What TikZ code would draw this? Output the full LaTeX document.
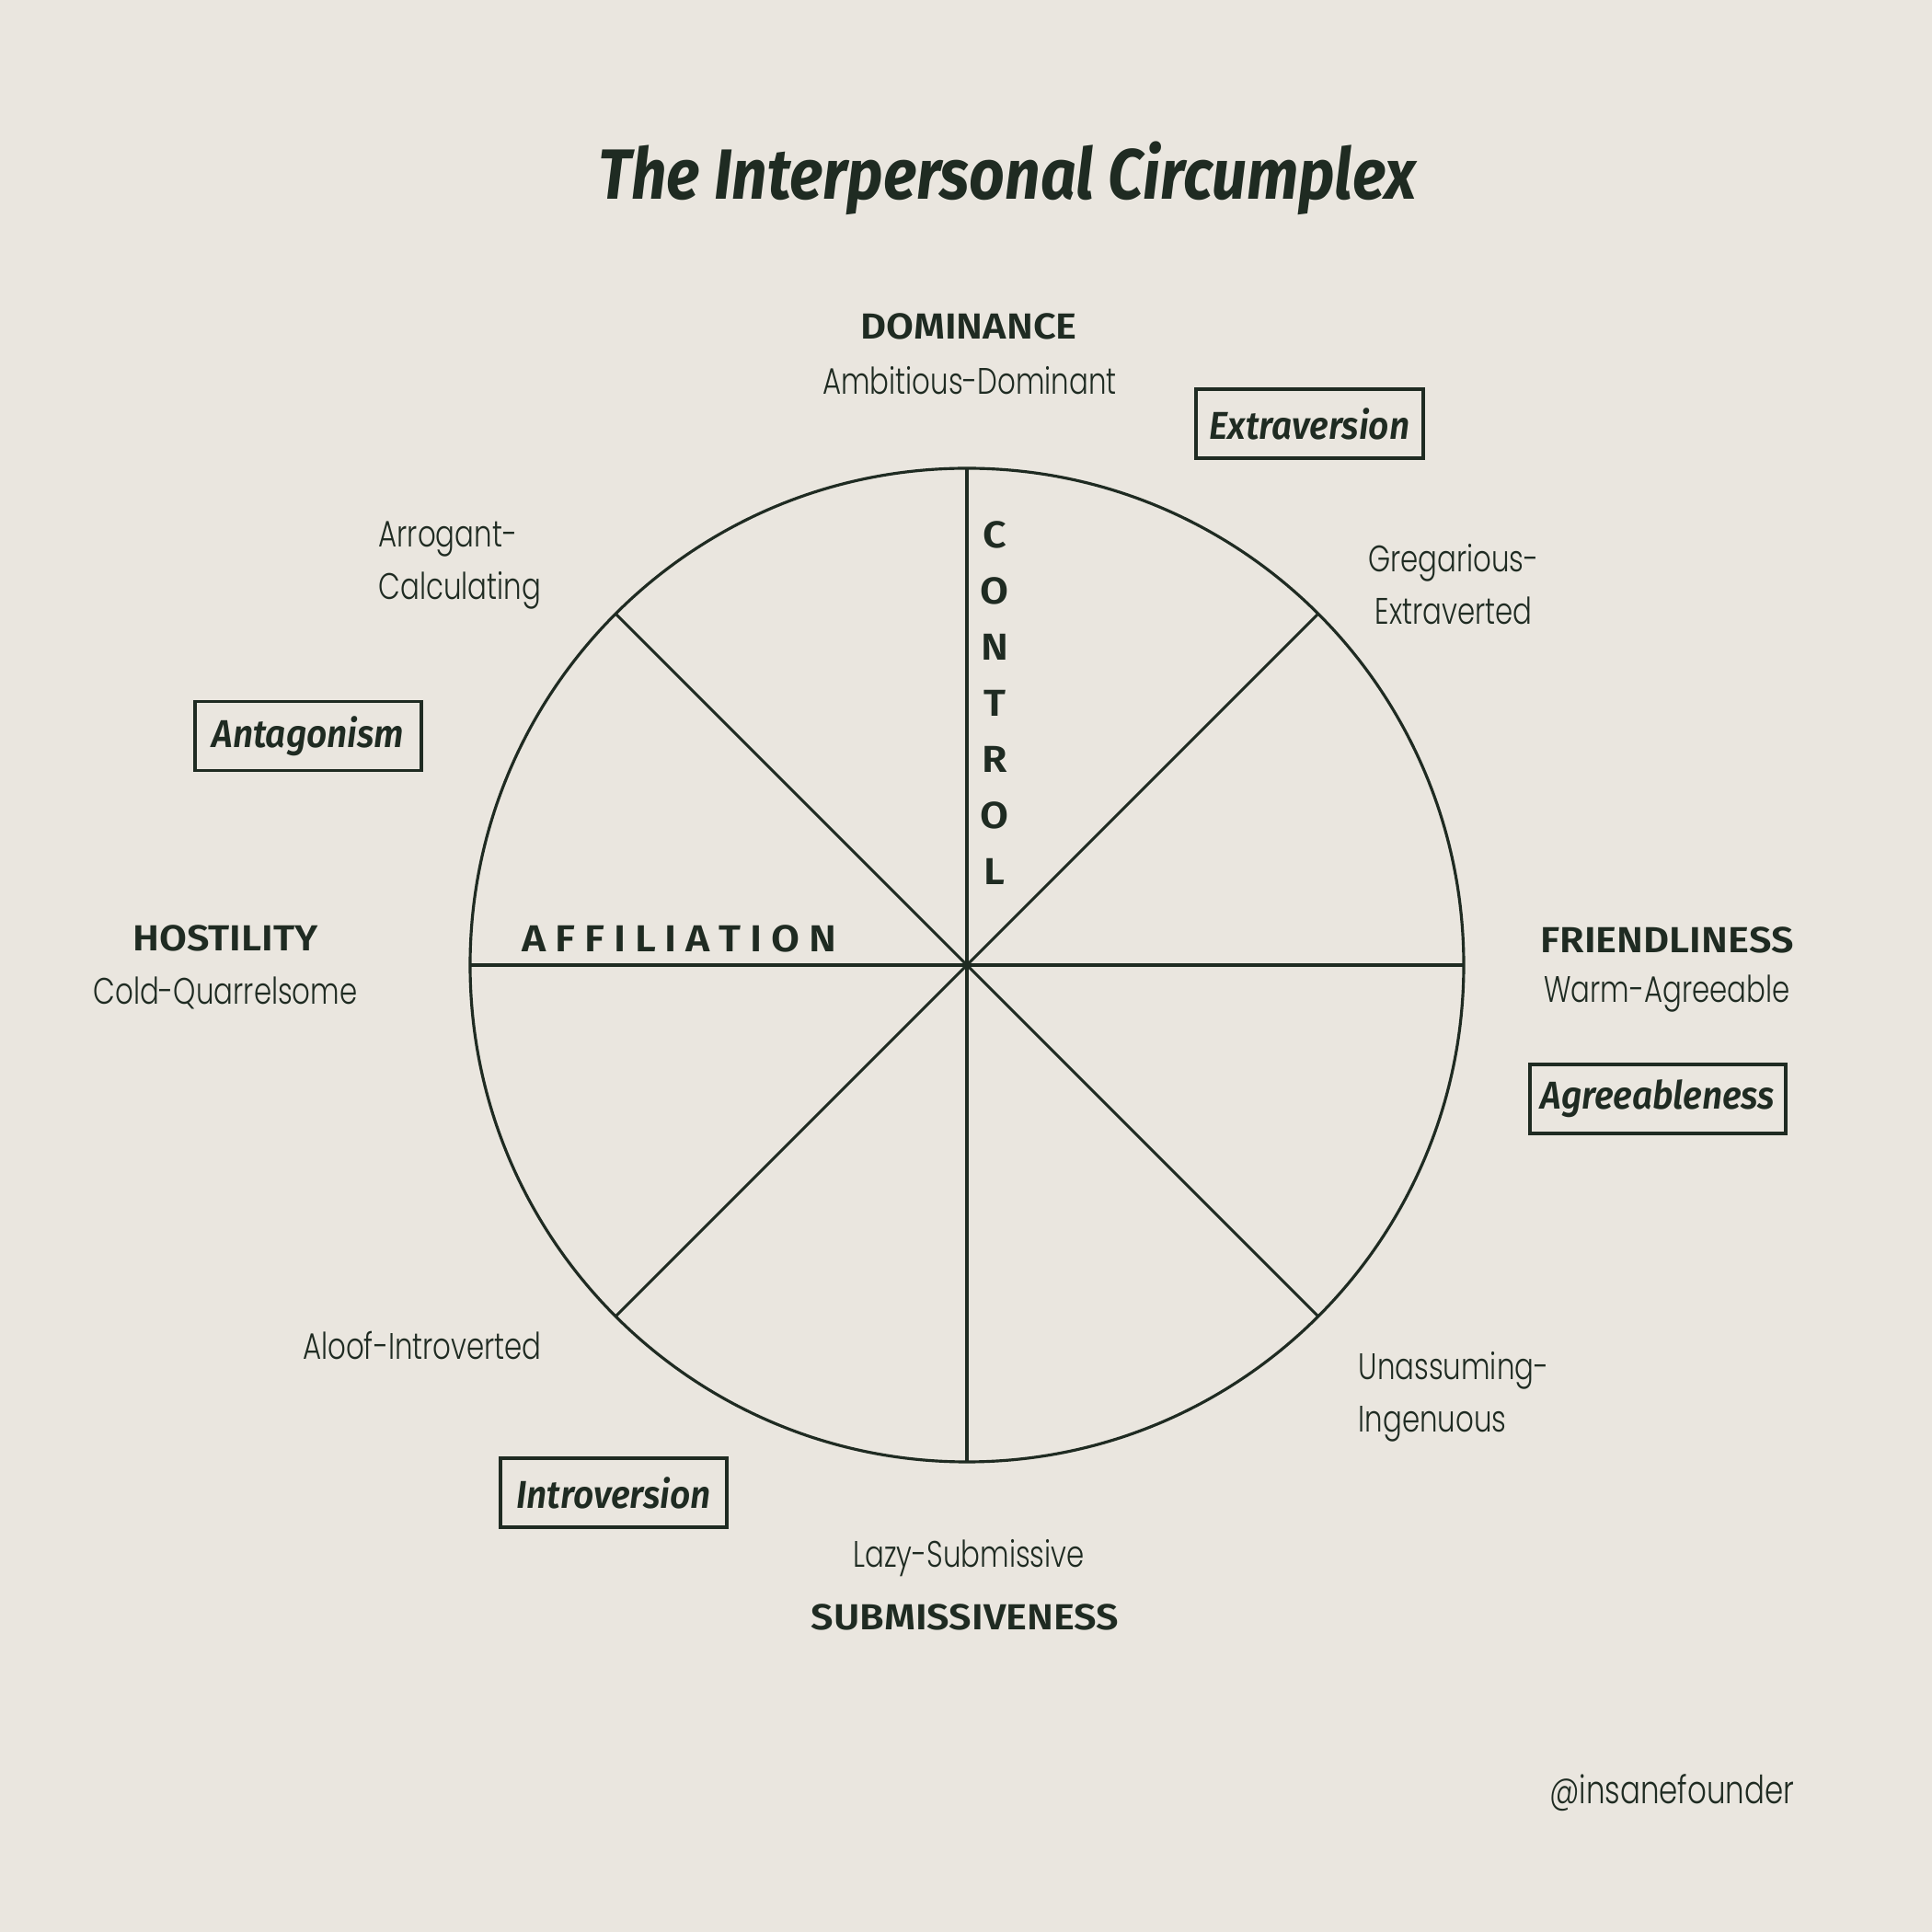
\documentclass[tikz,border=0pt]{standalone}
\usepackage{fontspec}
\usepackage{xcolor}
\usepackage{tikz}
\usetikzlibrary{positioning, calc}
\setmainfont{Fira Sans}
\newfontfamily\lightfont{Poppins Light}[FakeStretch=0.77]
\newfontfamily\headfont{Fira Sans}[FakeStretch=0.875]
\newfontfamily\boxfont{Fira Sans SemiBold}[FakeStretch=0.92]
\newfontfamily\axisfont{Fira Sans SemiBold}[FakeStretch=1.1]
\definecolor{paper}{RGB}{234,230,223}
\definecolor{ink}{RGB}{31,43,34}

\begin{document}
\begin{tikzpicture}[every node/.style={text=ink, inner sep=0pt},
    axislabel/.style={font=\axisfont\fontsize{11.2}{13}\selectfont},
    traitlabel/.style={font=\lightfont\fontsize{11.4}{16.2}\selectfont},
    factorbox/.style={draw=ink, line width=0.9pt, minimum height=0.75cm, font=\boxfont\fontsize{12}{14}\selectfont\itshape},
    spokeletter/.style={font=\axisfont\fontsize{11.6}{14}\selectfont}]
    % Background and page size
    \fill[paper] (0,0) rectangle (21,21);
    \useasboundingbox (0,0) rectangle (21,21);

    % Title
    \node (title) at (10.95,19.06) {\headfont\fontsize{22}{26}\selectfont\bfseries\itshape The Interpersonal Circumplex};

    % Circle and spokes
    \coordinate (c) at (10.51,10.51);
    \draw[ink, line width=0.9pt] (c) circle (5.40);
    \foreach \ang in {0,45,...,315} {
      \draw[ink, line width=0.9pt] (c) -- ($(c)+(\ang:5.40)$);
    }

    % Axis poles
    \node[axislabel] (dom) at (10.53,17.45) {DOMINANCE};
    \node[traitlabel] (domtrait) at (10.54,16.86) {Ambitious-Dominant};
    \node[axislabel] (hos) at (2.45,10.80) {HOSTILITY};
    \node[traitlabel] (hostrait) at (2.45,10.21) {Cold-Quarrelsome};
    \node[axislabel] (fri) at (18.12,10.78) {FRIENDLINESS};
    \node[traitlabel] (fritrait) at (18.12,10.20) {Warm-Agreeable};
    \node[traitlabel] (subtrait) at (10.53,4.06) {Lazy-Submissive};
    \node[axislabel] (sub) at (10.49,3.42) {SUBMISSIVENESS};

    % Octant traits
    \node[traitlabel, align=center] (greg) at (15.80,14.65) {Gregarious-\\Extraverted};
    \node[traitlabel, align=left, anchor=west] (arro) at (4.11,14.85) {Arrogant-\\Calculating};
    \node[traitlabel, align=left, anchor=west] (unas) at (14.76,5.82) {Unassuming-\\Ingenuous};
    \node[traitlabel] (aloof) at (4.59,6.38) {Aloof-Introverted};

    % Big Five boxes
    \node[factorbox, minimum width=2.47cm] (extra) at (14.235,16.395) {Extraversion};
    \node[factorbox, minimum width=2.46cm] (antag) at (3.35,13.00) {Antagonism};
    \node[factorbox, minimum width=2.78cm] (agree) at (18.02,9.055) {Agreeableness};
    \node[factorbox, minimum width=2.46cm] (intro) at (6.67,4.775) {Introversion};

    % Axis names
    \node[spokeletter] (affil) at (7.385,10.80) {A\hspace{0.24em}F\hspace{0.24em}F\hspace{0.24em}I\hspace{0.24em}L\hspace{0.24em}I\hspace{0.24em}A\hspace{0.24em}T\hspace{0.24em}I\hspace{0.24em}O\hspace{0.24em}N};
    \foreach \ch [count=\i from 0] in {C,O,N,T,R,O,L} {
      \node[spokeletter] (ctrl\i) at (10.81,15.19-0.61*\i) {\ch};
    }

    % Handle
    \node[traitlabel, font=\lightfont\fontsize{12}{14}\selectfont, anchor=east] (handle) at (19.51,1.51) {@insanefounder};
  \end{tikzpicture}
\end{document}
